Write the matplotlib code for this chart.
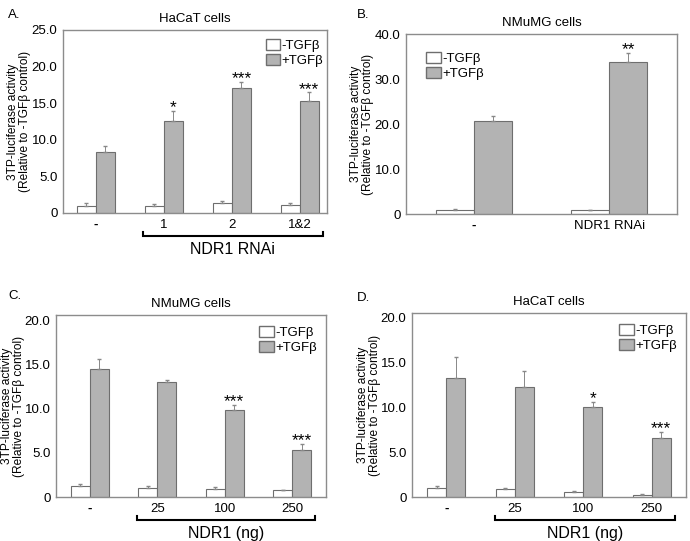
import matplotlib
matplotlib.use('Agg')
import matplotlib.pyplot as plt
import matplotlib.transforms as mtransforms
from matplotlib.patches import Patch
import numpy as np

plt.rcParams['font.family'] = ['Liberation Sans', 'DejaVu Sans']

# Panel A: HaCaT cells, NDR1 RNAi
a_groups = ['-', '1', '2', '1&2']
a_minus = [1.0, 1.0, 1.3, 1.05]
a_minus_err = [0.3, 0.2, 0.3, 0.25]
a_plus = [8.3, 12.6, 17.1, 15.3]
a_plus_err = [0.9, 1.4, 0.8, 1.2]
a_stars = ['', '*', '***', '***']

# Panel B: NMuMG cells, NDR1 RNAi
b_groups = ['-', 'NDR1 RNAi']
b_minus = [0.9, 0.8]
b_minus_err = [0.2, 0.2]
b_plus = [20.6, 33.8]
b_plus_err = [1.2, 2.0]
b_stars = ['', '**']

# Panel C: NMuMG cells, NDR1 (ng)
c_groups = ['-', '25', '100', '250']
c_minus = [1.25, 1.0, 0.9, 0.75]
c_minus_err = [0.25, 0.3, 0.2, 0.1]
c_plus = [14.5, 13.0, 9.8, 5.3]
c_plus_err = [1.1, 0.3, 0.6, 0.7]
c_stars = ['', '', '***', '***']

# Panel D: HaCaT cells, NDR1 (ng)
d_groups = ['-', '25', '100', '250']
d_minus = [1.0, 0.85, 0.6, 0.2]
d_minus_err = [0.2, 0.15, 0.1, 0.1]
d_plus = [13.3, 12.3, 10.0, 6.6]
d_plus_err = [2.3, 1.7, 0.6, 0.6]
d_stars = ['', '', '*', '***']

GRAY = '#b3b3b3'
EDGE = '#6e6e6e'
SPINE = '#8c8c8c'

fig = plt.figure(figsize=(6.9, 5.41), dpi=100)


def panel(rect, groups, minus, minus_err, plus, plus_err, stars, ymax, yticks,
          title, letter, letter_xy, ylabel_px, xlim, legend_loc, bracket=None,
          width=0.28, star_pad=0.4):
    ax = fig.add_axes(rect)
    x = np.arange(len(groups))
    ax.bar(x - width / 2, minus, width, color='white', edgecolor=EDGE, linewidth=0.8,
           yerr=[np.zeros(len(x)), minus_err], error_kw=dict(ecolor='#888888', elinewidth=0.7, capsize=1.2))
    ax.bar(x + width / 2, plus, width, color=GRAY, edgecolor=EDGE, linewidth=0.8,
           yerr=[np.zeros(len(x)), plus_err], error_kw=dict(ecolor='#888888', elinewidth=0.7, capsize=1.2))
    for xi, v, e, s in zip(x, plus, plus_err, stars):
        if s:
            ax.text(xi + width / 2, v + e + star_pad, s, ha='center', va='center', fontsize=12.5)
    ax.set_xlim(*xlim)
    ax.set_ylim(0, ymax)
    ax.set_yticks(yticks)
    ax.set_yticklabels(['0'] + ['%.1f' % t for t in yticks[1:]], fontsize=9.5)
    ax.set_xticks(x)
    ax.set_xticklabels(groups, fontsize=9.5)
    ax.get_xticklabels()[0].set_fontweight('bold')
    ax.tick_params(length=0, pad=4)
    for sp in ax.spines.values():
        sp.set_color(SPINE)
        sp.set_linewidth(1.0)
    ax.set_title(title, fontsize=9.5, pad=6)
    # y label: centred at a given pixel column of the figure
    fig.text(ylabel_px / 690, rect[1] + rect[3] / 2,
             '3TP-luciferase activity\n(Relative to -TGF\u03b2 control)', rotation=90,
             ha='center', va='center', fontsize=8.6, linespacing=0.92, multialignment='center')
    fig.text(letter_xy[0] / 690, 1 - letter_xy[1] / 541, letter, ha='left', va='center', fontsize=9.5)
    handles = [Patch(facecolor='white', edgecolor=EDGE, label='-TGF\u03b2'),
               Patch(facecolor=GRAY, edgecolor=EDGE, label='+TGF\u03b2')]
    ax.legend(handles=handles, frameon=False, fontsize=9.5, handlelength=1.1, handleheight=0.9,
              handletextpad=0.1, labelspacing=0.15, borderaxespad=0.3, **legend_loc)
    if bracket is not None:
        x0, x1, text = bracket
        tr = mtransforms.blended_transform_factory(ax.transData, ax.transAxes)
        ax.plot([x0, x0, x1, x1], [-0.105, -0.125, -0.125, -0.105], transform=tr,
                color='black', lw=1.5, clip_on=False, solid_joinstyle='miter')
        ax.text((x0 + x1) / 2, -0.20, text, transform=tr, ha='center', va='center', fontsize=11.5)
    return ax


panel([0.0913, 0.6063, 0.3826, 0.3383], a_groups, a_minus, a_minus_err, a_plus, a_plus_err,
      a_stars, 25, [0, 5, 10, 15, 20, 25], 'HaCaT cells', 'A.', (8, 15), 19, (-0.485, 3.4),
      dict(loc='upper right', bbox_to_anchor=(1.02, 1.0)), bracket=(0.69, 3.34, 'NDR1 RNAi'))

panel([0.5884, 0.6044, 0.3928, 0.3327], b_groups, b_minus, b_minus_err, b_plus, b_plus_err,
      b_stars, 40, [0, 10, 20, 30, 40], 'NMuMG cells', 'B.', (357, 15), 362, (-0.5, 1.5),
      dict(loc='upper left', bbox_to_anchor=(0.04, 0.95)), width=0.28, star_pad=0.8)

panel([0.0812, 0.0813, 0.3913, 0.3364], c_groups, c_minus, c_minus_err, c_plus, c_plus_err,
      c_stars, 20.6, [0, 5, 10, 15, 20], 'NMuMG cells', 'C.', (8, 296), 13, (-0.5, 3.5),
      dict(loc='upper right', bbox_to_anchor=(1.0, 0.99)), bracket=(0.7, 3.34, 'NDR1 (ng)'))

panel([0.5971, 0.0813, 0.3971, 0.3401], d_groups, d_minus, d_minus_err, d_plus, d_plus_err,
      d_stars, 20.5, [0, 5, 10, 15, 20], 'HaCaT cells', 'D.', (357, 298), 369, (-0.5, 3.5),
      dict(loc='upper right', bbox_to_anchor=(1.0, 0.99)), bracket=(0.71, 3.34, 'NDR1 (ng)'))

fig.savefig('out.png', dpi=100)
